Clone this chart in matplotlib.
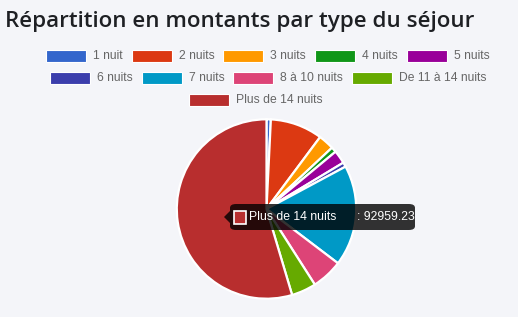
import matplotlib
matplotlib.use("Agg")
import matplotlib.pyplot as plt
from matplotlib.patches import Rectangle, FancyBboxPatch, Polygon
from matplotlib.textpath import TextPath
from matplotlib.font_manager import FontProperties

categories = ["1 nuit", "2 nuits", "3 nuits", "4 nuits", "5 nuits",
              "6 nuits", "7 nuits", "8 à 10 nuits", "De 11 à 14 nuits", "Plus de 14 nuits"]
values = [1324, 16030, 4824, 1608, 4067, 1371, 30930, 9553, 7567, 92959.23]
colors = ["#3366CC", "#DC3912", "#FF9900", "#109618", "#990099",
          "#3B3EAC", "#0099C6", "#DD4477", "#66AA00", "#B82E2E"]
title = "Répartition en montants par type du séjour"
tooltip_label = "Plus de 14 nuits"
tooltip_value = "92959.23"

W, H = 518, 317
bg = "#F4F5F9"
fig = plt.figure(figsize=(W / 100, H / 100), dpi=100, facecolor=bg)

def fx(x):
    return x / W

def fy(y):
    return 1 - y / H

# Title
fig.text(fx(5), fy(22), title, fontsize=16.1, fontweight=600, family="Open Sans",
         color="#1E2024", va="center", ha="left")

# Legend (manual, Chart.js style)
rows = [[0, 1, 2, 3, 4], [5, 6, 7, 8], [9]]
row_y = [56, 78, 100]
row_x0 = [46, 50, 189]
box_w, box_h, gap_txt, gap_item = 40, 12, 7, 10
fp = FontProperties(family="Liberation Sans", size=8.7)

def text_w(s):
    tp = TextPath((0, 0), s, prop=fp)
    return tp.get_extents().width * 100 / 72

for r, y, x in zip(rows, row_y, row_x0):
    for i in r:
        wd = box_w + gap_txt + text_w(categories[i])
        fig.patches.append(Rectangle((fx(x), fy(y + box_h / 2)), box_w / W, box_h / H,
                                     transform=fig.transFigure, facecolor=colors[i],
                                     edgecolor="white", linewidth=0.8))
        fig.text(fx(x + box_w + gap_txt), fy(y), categories[i], fontproperties=fp,
                 color="#666666", va="center", ha="left")
        x += wd + gap_item

# Pie
cx, cy, R = 266.5, 209, 91.5
ax = fig.add_axes([fx(cx - R), fy(cy + R), 2 * R / W, 2 * R / H])
ax.set_facecolor("none")
ax.pie(values, colors=colors, startangle=90, counterclock=False, radius=1,
       wedgeprops=dict(edgecolor="white", linewidth=1.6))
ax.set_xlim(-1.02, 1.02)
ax.set_ylim(-1.02, 1.02)
ax.set_aspect("equal")
ax.axis("off")

# Tooltip
tx0, ty0, tx1, ty1 = 230, 204, 415, 230
fig.patches.append(FancyBboxPatch((fx(tx0), fy(ty1)), (tx1 - tx0) / W, (ty1 - ty0) / H,
                                  boxstyle="round,pad=0,rounding_size=0.012",
                                  transform=fig.transFigure, facecolor="black",
                                  edgecolor="none", alpha=0.8, zorder=10))
fig.patches.append(Polygon([(fx(224), fy(217)), (fx(230), fy(211)), (fx(230), fy(223))],
                           closed=True, transform=fig.transFigure, facecolor="black",
                           edgecolor="none", alpha=0.8, zorder=10))
fig.patches.append(Rectangle((fx(234), fy(224)), 12 / W, 13 / H, transform=fig.transFigure,
                             facecolor=colors[9], edgecolor="white", linewidth=1.2, zorder=11))
fig.text(fx(249), fy(216.5), tooltip_label, family="Liberation Sans", fontsize=8.8,
         color="white", va="center", ha="left", zorder=12)
fig.text(fx(357), fy(216.5), ": " + tooltip_value, family="Liberation Sans", fontsize=8.8,
         color="white", va="center", ha="left", zorder=12)

fig.savefig("out.png", dpi=100, facecolor=bg)
